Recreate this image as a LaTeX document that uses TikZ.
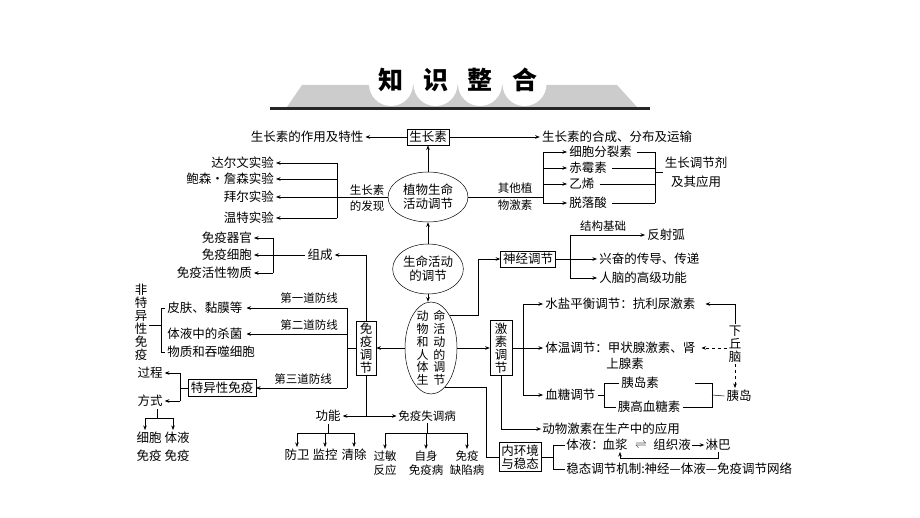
\documentclass[tikz,border=0pt]{standalone}
\usepackage{fontspec}
\newfontfamily\cjk{Noto Sans CJK SC}
\usetikzlibrary{shapes.geometric}
\usetikzlibrary{arrows.meta}
\usetikzlibrary{calc}

\tikzset{
  txt/.style={font=\cjk\fontsize{12.5}{14}\selectfont, inner sep=2pt},
  small/.style={font=\cjk\fontsize{11.5}{14}\selectfont, inner sep=1.5pt},
  boxed/.style={txt, draw, inner sep=2.5pt},
  oval/.style={draw, ellipse, inner sep=0pt},
  vtxt/.style={font=\cjk\fontsize{12.5}{13}\selectfont, align=center, inner sep=1.5pt},
}

\begin{document}
\begin{tikzpicture}[x=1pt, y=-1pt, line width=0.5pt, >={Stealth[length=4.5pt,width=3.5pt]}]
\useasboundingbox (0,0) rectangle (920,518);

% title
\fill[gray!40] (302,85) -- (617,85) -- (637,107) -- (287,107) -- cycle;
\foreach \c [count=\i] in {知,识,整,合} {
  \fill[white] ({346.5+44.5*\i},84) circle (22pt);
}
\fill[black!85] (270,107) rectangle (650,110);
\foreach \c [count=\i] in {知,识,整,合} {
  \node[font=\cjk\bfseries\fontsize{25}{25}\selectfont] (title\i) at ({346.5+44.5*\i},80) {\c};
}

% plant
\node[boxed] (auxin) at (428,137) {生长素};
\node[txt] (effect) at (307,137) {生长素的作用及特性};
\node[txt] (synth) at (617,137) {生长素的合成、分布及运输};
\node[oval, txt, align=center, minimum width=80pt, minimum height=50pt, inner sep=0pt] (plant) at (428,197) {植物生命\\活动调节};
\node[oval, txt, align=center, minimum width=70pt, minimum height=50pt, inner sep=0pt] (life) at (428,269) {生命活动\\的调节};
\draw[->] (plant) -- (auxin);
\draw[->] (auxin) -- (effect);
\draw[->] (auxin) -- (synth);
\draw[->] (life) -- (plant);

\coordinate (disc) at (337,197);
\draw (plant.west) -- (disc);
\node[small, align=center, font=\cjk\fontsize{11.5}{16}\selectfont] (disclbl) at (367,198) {生长素\\的发现};
\foreach \nm/\lbl/\y in {exp1/达尔文实验/163, exp2/鲍森·詹森实验/179, exp3/拜尔实验/197, exp4/温特实验/218} {
  \node[txt, anchor=east] (\nm) at (276,\y) {\lbl};
  \draw[->] (disc |- \nm.east) -- (\nm.east);
}
\draw (disc |- exp1.east) -- (disc |- exp4.east);

\coordinate (oth) at (543,197);
\coordinate (reg) at (655,172);
\draw (plant.east) -- (oth);
\node[small, align=center, font=\cjk\fontsize{11.5}{17}\selectfont] (othlbl) at (515,197) {其他植\\物激素};
\foreach \nm/\lbl/\y in {h1/细胞分裂素/152, h2/赤霉素/168, h3/乙烯/184, h4/脱落酸/203} {
  \node[txt, anchor=west] (\nm) at (567,\y) {\lbl};
  \draw[->] (oth |- \nm.west) -- (\nm.west);
  \draw ([xshift=3pt]\nm.east) -- (reg |- \nm.east);
}
\draw (oth |- h1.west) -- (oth |- h4.west);
\draw (reg |- h1.east) -- (reg |- h4.east);
\node[txt, align=center, font=\cjk\fontsize{12.5}{19}\selectfont] (regtxt) at (696,172) {生长调节剂\\及其应用};
\draw (reg) -- (regtxt.west);

% animal
\node[oval, minimum width=52pt, minimum height=92pt] (animal) at (431,348) {};
\node[font=\cjk\fontsize{12}{12.8}\selectfont, align=center, inner sep=0pt] (animaltxt) at (animal.center)
  {动\hspace{5pt}命\\物\hspace{5pt}活\\和\hspace{5pt}动\\人\hspace{5pt}的\\体\hspace{5pt}调\\生\hspace{5pt}节};
\draw[->] (life.south) -- (life.south |- animal.north);

% nerve
\node[boxed] (nerve) at (528,259) {神经调节};
\coordinate (nv) at (478,259);
\draw[->] (animal.60) -| (nv) -- (nerve.west);
\coordinate (nb) at (570,259);
\node[txt, anchor=west] (reflex) at (645,235) {反射弧};
\node[txt, anchor=west] (excite) at (597,259) {兴奋的传导、传递};
\node[txt, anchor=west] (brain) at (597,278) {人脑的高级功能};
\node[small] (struct) at (603,226) {结构基础};
\draw[->] (nerve.east) -- (excite.west);
\draw[->] (nb |- reflex.west) -- (reflex.west);
\draw[->] (nb |- brain.west) -- (brain.west);
\draw (nb |- reflex.west) -- (nb |- brain.west);

% hormone
\node[boxed, vtxt, draw, minimum width=22pt, minimum height=55pt] (hormone) at (501,348) {激\\素\\调\\节};
\draw[->] (animal.east) -- (hormone.west);
\coordinate (hb) at (523,348);
\node[txt, anchor=west] (water) at (543,304) {水盐平衡调节：抗利尿激素};
\node[txt, anchor=west] (temp) at (543,348) {体温调节：甲状腺激素、肾};
\node[txt, anchor=west] (temp2) at (604,364) {上腺素};
\node[txt, anchor=west] (sugar) at (543,395) {血糖调节};
\draw (hormone.east) -- (hb);
\foreach \nm in {water,temp,sugar} {
  \draw[->] (hb |- \nm.west) -- (\nm.west);
}
\draw (hb |- water.west) -- (hb |- sugar.west);

\coordinate (sb) at (604,395);
\node[txt] (insulin) at (640,383) {胰岛素};
\node[txt] (glucagon) at (649,407) {胰高血糖素};
\draw (sugar.east) -- (sb);
\draw (insulin.west) -| (sb |- glucagon.west) -- (glucagon.west);
\coordinate (insend) at (695,383);
\coordinate (ib) at (712,395);
\node[txt] (islet) at (739,396) {胰岛};
\draw (insend) -| (ib |- glucagon.east) -- (glucagon.east);
\draw (ib) -- (islet.west);

\node[vtxt] (hypo) at (735,344) {下\\丘\\脑};
\draw[->] (hypo.north) |- ([xshift=8pt]water.east);
\draw[->, dashed] (hypo.west |- temp.east) -- ([xshift=4pt]temp.east);
\draw[->, dashed] (hypo.south) -- (hypo.south |- islet.north);

\node[txt, anchor=west, inner sep=1pt] (apply) at (541,429) {动物激素在生产中的应用};
\draw[->] (hormone.south) |- (apply.west);

% homeostasis
\node[boxed, align=center, font=\cjk\fontsize{12.5}{13}\selectfont, inner sep=2pt] (homeo) at (520,457) {内环境\\与稳态};
\coordinate (hm) at (486,457);
\draw (animal.-70) -| (hm) -- (homeo.west);
\coordinate (hr) at (553,457);
\draw (homeo.east) -- (hr);
\node[txt, anchor=west, inner sep=1pt] (fluid) at (565,445) {体液：};
\node[txt, inner sep=1pt] (plasma) at (615,445) {血浆};
\node[inner sep=0pt, font=\fontsize{13}{13}\selectfont] (eqsign) at (641,445) {$\rightleftharpoons$};
\node[txt, inner sep=1pt] (tissue) at (672,445) {组织液};
\node[txt, inner sep=1pt] (lymph) at (718,445) {淋巴};
\node[txt, anchor=west, inner sep=1pt] (mech) at (565,469) {稳态调节机制:神经—体液—免疫调节网络};
\draw[->] (tissue) -- (lymph);
\draw[->] (lymph.south) -- ++(0,6) -| ([xshift=5pt]plasma.south);
\draw (fluid.west) -| (hr |- mech.west) -- (mech.west);

% immune
\node[boxed, vtxt, draw, minimum width=20pt, minimum height=54pt] (immune) at (366,348) {免\\疫\\调\\节};
\draw[->] (animal.west) -- (immune.east);
\node[txt] (compose) at (320,255) {组成};
\draw[->] (immune.north) |- (compose.east);
\coordinate (cb) at (273,255);
\node[txt, anchor=east] (organ) at (254,238) {免疫器官};
\node[txt, anchor=east] (icell) at (254,255) {免疫细胞};
\node[txt, anchor=east] (activ) at (254,273) {免疫活性物质};
\draw[->] (compose.west) -- (icell.east);
\draw[->] (cb |- organ.east) -- (organ.east);
\draw[->] (cb |- activ.east) -- (activ.east);
\draw (cb |- organ.east) -- (cb |- activ.east);

\coordinate (db) at (347,348);
\draw (immune.west) -- (db);
\node[txt, anchor=west] (skin) at (165,308) {皮肤、黏膜等};
\node[txt, anchor=west] (bact) at (165,334) {体液中的杀菌};
\node[txt, anchor=west] (phago) at (165,352) {物质和吞噬细胞};
\node[boxed] (spec) at (222,388) {特异性免疫};
\draw[->] (db |- skin.east) -- ([xshift=2pt]skin.east);
\draw[->] (db |- bact.east) -- ([xshift=2pt]bact.east);
\draw[->] (db |- spec.east) -- (spec.east);
\draw (db |- skin.east) -- (db |- spec.east);
\node[small] (line1) at (309,298) {第一道防线};
\node[small] (line2) at (309,325) {第二道防线};
\node[small] (line3) at (303,379) {第三道防线};

\node[vtxt] (nonspec) at (141,322) {非\\特\\异\\性\\免\\疫};
\coordinate (nsb) at (161,325);
\draw (nonspec.east |- nsb) -- (nsb);
\draw (skin.west) -| (nsb |- phago.west) -- (phago.west);

\node[txt] (process) at (150,373) {过程};
\node[txt] (mode) at (150,401) {方式};
\coordinate (spb) at (180,388);
\draw (spec.west) -- (spb);
\draw[->] (spb |- process.east) -- (process.east);
\draw[->] (spb |- mode.east) -- (mode.east);
\draw (spb |- process.east) -- (spb |- mode.east);

\node[txt, align=center, font=\cjk\fontsize{12.5}{18}\selectfont] (cellim) at (149,447) {细胞\\免疫};
\node[txt, align=center, font=\cjk\fontsize{12.5}{18}\selectfont] (humor) at (177,447) {体液\\免疫};
\coordinate (mj) at (157,418);
\draw (mode.south -| mj) -- (mj);
\draw[->] (mj) -| ([xshift=-4pt]cellim.north);
\draw[->] (mj) -| ([xshift=-4pt]humor.north);

\coordinate (fj) at (366,416);
\node[txt] (func) at (328,416) {功能};
\node[small] (disorder) at (427,416) {免疫失调病};
\draw (immune.south) -- (fj);
\draw[->] (fj) -- (func.east);
\draw[->] (fj) -- (disorder.west);

\node[txt] (f1) at (297,455) {防卫};
\node[txt] (f2) at (325,455) {监控};
\node[txt] (f3) at (354,455) {清除};
\coordinate (fk) at (325,433);
\draw (func.south) -- (func.south |- fk);
\draw (fk -| f1.north) -- (fk -| f3.north);
\foreach \nm in {f1,f2,f3} {
  \draw[->] (fk -| \nm.north) -- (\nm.north);
}

\node[small, align=center] (d1) at (385,463) {过敏\\反应};
\node[small, align=center] (d2) at (426,463) {自身\\免疫病};
\node[small, align=center] (d3) at (467,463) {免疫\\缺陷病};
\coordinate (dk) at (427,433);
\draw (disorder.south) -- (disorder.south |- dk);
\draw (dk -| d1.north) -- (dk -| d3.north);
\foreach \nm in {d1,d2,d3} {
  \draw[->] (dk -| \nm.north) -- (\nm.north);
}
\end{tikzpicture}
\end{document}
